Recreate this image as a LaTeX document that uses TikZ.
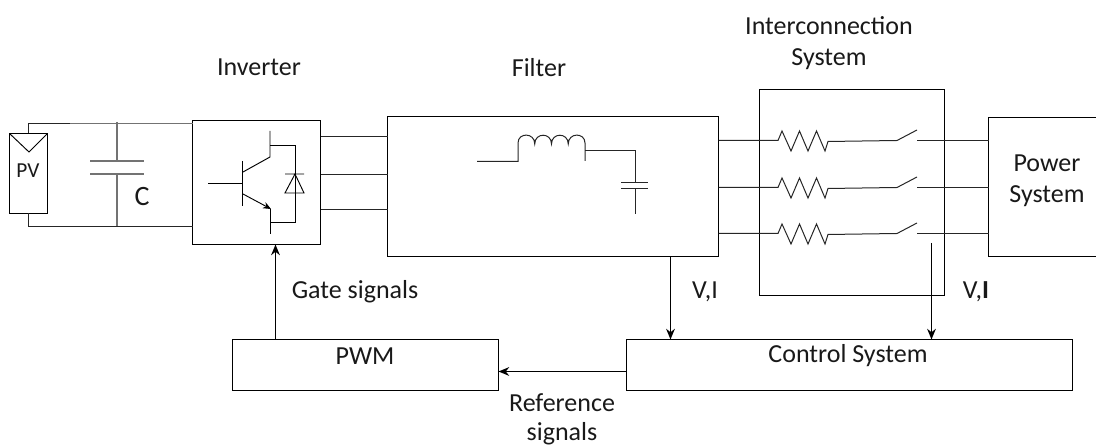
\documentclass[tikz,border=0pt]{standalone}
\usepackage{fontspec}
\setmainfont{Carlito}
\usetikzlibrary{arrows.meta}
\tikzset{
  x=0.75pt,y=-0.75pt,
  box/.style={draw=black,line width=0.8pt,inner sep=0pt,outer sep=0pt,fill=none},
  wire/.style={draw=black!85,line width=0.75pt},
  gwire/.style={draw=black!55,line width=0.9pt},
  thin wire/.style={draw=black,line width=0.7pt},
  sig/.style={draw=black,line width=1.4pt,-{Stealth[length=8pt,width=6.5pt]}},
  lab/.style={font=\fontsize{19.5}{23.2}\selectfont,inner sep=0pt,align=center,text=black!90}
}
\newcommand{\bx}[5]{\node[box,minimum width={(#4-#2)*0.75pt},minimum height={(#5-#3)*0.75pt}] (#1) at ({(#2+#4)/2},{(#3+#5)/2}) {};}
\begin{document}
\begin{tikzpicture}
\useasboundingbox (0,0) rectangle (1096,448);
\clip (0,0) rectangle (1096,448);
% boxes
\bx{pv}{9.5}{133.5}{47.5}{213.5}
\bx{inv}{192.5}{120.5}{320.5}{244.5}
\bx{flt}{387.5}{116.5}{718.5}{256.5}
\bx{ics}{759.5}{89.5}{944.5}{295.5}
\bx{pow}{988.5}{117.5}{1110}{256.5}
\bx{pwm}{232.5}{339.5}{498.5}{390.5}
\bx{ctl}{626.5}{339.5}{1072.5}{390.5}
% PV symbol
\draw[thin wire] (pv.north west) -- (29,152) -- (pv.north east);
% DC link
\coordinate (capt) at (117,123.5);
\coordinate (capb) at (117,226.5);
\draw[wire] (pv.north) -- (28.5,123.5) -- (70,123.5);
\draw[gwire] (70,123.5) -- (inv.west |- capt);
\draw[wire] (pv.south) -- (28.5,226.5) -- (inv.west |- capb);
\draw[gwire] (117,122) -- (117,161) (90,161) -- (144,161)
  (90,174) -- (144,174) (117,174) -- (capb);
% IGBT
\draw[thin wire] (208,183) -- (242.5,183) (242.5,161) -- (242.5,206);
\draw[thin wire] (243,172) -- (270,157) -- (270,131);
\draw[thin wire] (270,145) -- (295,145) -- (295,222) -- (270,222);
\draw[thin wire] (270,234) -- (270,209);
\draw[thin wire,-{Stealth[length=6pt,width=5pt]}] (243,194) -- (271,209);
\draw[thin wire] (285,174) -- (304,174) (295,174) -- (285,193) -- (304,193) -- cycle;
% inverter to filter
\foreach \y in {136.5,174.5,209.5} {
  \coordinate (ia) at (0,\y);
  \draw[wire] (inv.east |- ia) -- (flt.west |- ia);
}
% filter symbol
\draw[wire] (477,161.5) -- (518,161.5) -- (518,143)
  .. controls (518,132.3) and (534.75,132.3) .. (534.75,144)
  .. controls (534.75,132.3) and (551.5,132.3) .. (551.5,144)
  .. controls (551.5,132.3) and (568.25,132.3) .. (568.25,144)
  .. controls (568.25,132.3) and (585,132.3) .. (585,143) -- (585,161);
\draw[wire] (585,150.5) -- (635,150.5) -- (635,182.5) (621,182.5) -- (648,182.5)
  (621,189) -- (648,189) (635,189) -- (635,214);
% three phase lines
\foreach \y in {140.5,187.5,233.5} {
  \coordinate (pa) at (0,\y);
  \draw[wire] (flt.east |- pa) -- (778,\y) -- ++(4,-9.5) -- ++(9,20) -- ++(8.5,-20) -- ++(8.5,20) -- ++(8.5,-20) -- ++(8.5,20) -- ++(3,-9.5) -- (897,\y) -- (917,\y-10.5);
  \draw[wire] (917,\y) -- (pow.west |- pa);
}
% signals
\coordinate (gx) at (275.5,0);
\coordinate (fx) at (670.5,0);
\coordinate (sx) at (931.5,243);
\coordinate (ry) at (0,371.5);
\draw[sig] (pwm.north -| gx) -- (inv.south -| gx);
\draw[sig] (flt.south -| fx) -- (ctl.north -| fx);
\draw[sig] (sx) -- (ctl.north -| sx);
\draw[sig] (ctl.west |- ry) -- (pwm.east |- ry);
% labels
\node[lab] (l1) at (259,67) {Inverter};
\node[lab] (l2) at (539,68) {Filter};
\node[lab] (l3) at (829,43) {Interconnection\\System};
\node[lab,font=\fontsize{21}{23}\selectfont] (l4) at (142,197) {C};
\node[lab,font=\fontsize{16}{18}\selectfont] (l5) at (28,171) {PV};
\node[lab] (l6) at (1047,181) {Power\\System};
\node[lab] (l7) at (705,292) {V,I};
\node[lab] (l8) at (976,292) {V,\textbf{I}};
\node[lab] (l9) at (355,292) {Gate signals};
\node[lab] (l10) at (365,356) {PWM};
\node[lab] (l11) at (848,356) {Control System};
\node[lab,font=\fontsize{19.5}{22}\selectfont] (l12) at (562,419.5) {Reference\\signals};
\end{tikzpicture}
\end{document}
